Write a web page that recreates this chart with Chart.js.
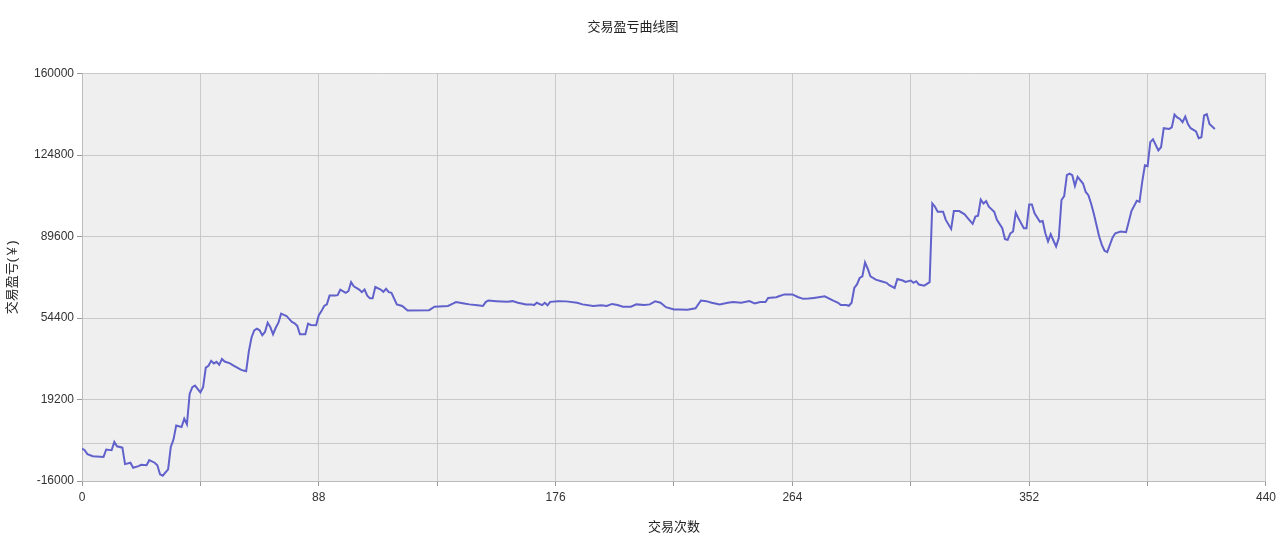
<!DOCTYPE html>
<html>
<head>
<meta charset="utf-8">
<title>交易盈亏曲线图</title>
<script src="https://cdn.jsdelivr.net/npm/chart.js@4.4.1/dist/chart.umd.min.js"></script>
<style>
  html, body { margin: 0; padding: 0; background: #fff; }
  #wrap { width: 1280px; height: 546px; }
</style>
</head>
<body>
<div id="wrap"><canvas id="pnlChart"></canvas></div>
<script>
// trade number and cumulative profit
const tradeNo = [
  0, 1, 2, 4, 8, 9, 11, 12, 13, 15, 16, 18, 19, 21, 22, 24, 25, 27, 28, 29, 30, 32, 33, 34, 35, 37, 38, 39, 40, 41, 42, 44, 45, 46, 47, 48,
  49, 50, 51, 52, 53, 55, 56, 59, 60, 61, 62, 63, 64, 65, 66, 67, 68, 69, 70, 71, 72, 73, 74, 76, 78, 79, 80, 81, 83, 84, 85, 87, 88, 89,
  90, 91, 92, 94, 95, 96, 98, 99, 100, 101, 103, 104, 105, 106, 107, 108, 109, 111, 112, 113, 114, 115, 117, 119, 121, 129, 131, 136, 138, 139,
  142, 144, 147, 149, 150, 151, 154, 158, 160, 162, 165, 167, 168, 169, 171, 172, 173, 174, 177, 180, 184, 186, 190, 193, 195, 197, 199, 201, 204, 206,
  209, 211, 213, 215, 217, 220, 222, 225, 228, 230, 232, 234, 237, 240, 242, 245, 248, 250, 252, 254, 255, 258, 259, 261, 264, 266, 268, 270, 272, 276,
  279, 281, 282, 284, 285, 286, 287, 288, 289, 290, 291, 292, 293, 295, 297, 299, 300, 302, 303, 305, 306, 308, 309, 310, 311, 313, 315, 316, 317, 318,
  320, 321, 323, 324, 326, 328, 329, 331, 332, 333, 334, 335, 336, 337, 339, 340, 342, 343, 344, 345, 346, 347, 348, 350, 351, 352, 353, 354, 356, 357,
  358, 359, 360, 361, 362, 363, 364, 365, 366, 367, 368, 369, 370, 372, 373, 374, 375, 376, 377, 378, 379, 380, 381, 383, 384, 386, 388, 389, 390, 392,
  393, 394, 395, 396, 397, 398, 400, 401, 402, 404, 405, 406, 407, 408, 409, 410, 411, 412, 414, 415, 416, 417, 418, 419, 421
];
const pnl = [
  -2000, -2700, -4400, -5300, -5600, -2400, -2700, 900, -1000, -1600, -8700, -8100, -10300, -9600, -9000, -9200, -7000, -8100, -9200, -13100, -13700, -11000, -1300, 1900, 8000, 7300, 10900, 8500, 21600, 24500, 25200, 22300, 24500, 33000, 33800, 35900,
  34800, 35500, 34200, 36700, 35600, 34800, 34100, 32100, 31700, 31400, 40000, 46000, 49100, 49800, 49100, 47000, 48400, 52400, 50500, 47400, 50200, 52400, 56300, 55300, 52700, 52100, 51000, 47400, 47400, 52000, 51400, 51300, 55600, 57400,
  59600, 60300, 64100, 64100, 64300, 66700, 65300, 66000, 69900, 68100, 66700, 65600, 66700, 64100, 62900, 62900, 67800, 66700, 65700, 67000, 65600, 65300, 60300, 59600, 57700, 57800, 59300, 59600, 60700, 61300,
  60700, 60300, 59900, 59600, 61300, 62000, 61700, 61400, 61700, 61000, 60300, 60300, 60000, 61000, 60000, 61000, 59900, 61400, 61700, 61600, 61000, 60300, 59600, 59900, 59600, 60500, 60000, 59300, 59300, 60300,
  60000, 60300, 61600, 61000, 59100, 58100, 58100, 58000, 58600, 62000, 61700, 61000, 60300, 61000, 61300, 61000, 61700, 60700, 61300, 61300, 63100, 63400, 63800, 64600, 64600, 63500, 62700, 62800, 63100, 63800,
  62000, 61000, 60000, 60000, 59700, 61000, 67400, 68900, 71700, 72400, 78400, 75700, 72400, 71000, 70300, 69600, 68600, 67400, 71300, 70600, 70000, 70600, 69600, 70300, 68900, 68400, 69900, 103900, 102500, 100300,
  100300, 96800, 92900, 100600, 100600, 99200, 97800, 95100, 98200, 98600, 105600, 103900, 104900, 102500, 100300, 96800, 93200, 88500, 88200, 91000, 91800, 99900, 97500, 93200, 93200, 103500, 103500, 99600, 96000, 96300,
  91000, 87500, 90600, 87900, 85300, 88900, 105400, 107100, 116100, 116800, 116100, 111500, 115400, 112500, 108900, 107500, 103900, 99600, 94600, 89600, 86000, 83500, 82900, 89200, 91000, 91800, 91500, 96000, 100600, 105100,
  104600, 113200, 120400, 120000, 130400, 131600, 126800, 128200, 136400, 136100, 136800, 142300, 141100, 140400, 139000, 141400, 138200, 136400, 135000, 132100, 132500, 141900, 142500, 138200, 136100
];
const yTicks = [-16000, 0, 19200, 54400, 89600, 124800, 160000];
const xMax = 440;

Chart.defaults.font.family = '"Liberation Sans", Arial, "Noto Sans CJK SC", sans-serif';
Chart.defaults.font.size = 12;
Chart.defaults.color = '#333';

const plotBg = {
  id: 'plotBg',
  beforeDraw(chart) {
    const { ctx, chartArea: a } = chart;
    ctx.save();
    ctx.fillStyle = '#efefef';
    ctx.fillRect(a.left, a.top, a.right - a.left, a.bottom - a.top);
    ctx.restore();
  }
};

function initChart() {
  const ctx = document.getElementById('pnlChart').getContext('2d');
  new Chart(ctx, {
    type: 'line',
    data: {
      datasets: [{
        label: '交易盈亏',
        data: tradeNo.map((t, i) => ({ x: t, y: pnl[i] })),
        borderColor: '#6161cc',
        borderWidth: 2,
        pointRadius: 0,
        tension: 0,
        fill: false
      }]
    },
    options: {
      responsive: true,
      maintainAspectRatio: false,
      animation: false,
      layout: { padding: { left: 0, right: 14, top: 0, bottom: 0 } },
      plugins: {
        legend: { display: false },
        tooltip: { enabled: false },
        title: {
          display: true,
          text: '交易盈亏曲线图',
          font: { size: 13, weight: 'normal' },
          color: '#222',
          padding: { top: 20, bottom: 38 }
        }
      },
      scales: {
        x: {
          type: 'linear',
          min: 0,
          max: xMax,
          afterFit: (axis) => { axis.height = 65; },
          ticks: {
            stepSize: 44,
            autoSkip: false,
            maxRotation: 0,
            padding: 4,
            callback: (v) => (v % 88 === 0 ? v : '')
          },
          grid: { color: '#c9c9c9', tickLength: 5, tickColor: '#999' },
          border: { color: '#bbb' },
          title: {
            display: true,
            text: '交易次数',
            font: { size: 13 },
            color: '#222',
            padding: { top: 0, bottom: 11 }
          }
        },
        y: {
          min: -16000,
          max: 160000,
          afterFit: (axis) => { axis.width = 82; },
          afterBuildTicks: (axis) => { axis.ticks = yTicks.map(v => ({ value: v })); },
          ticks: {
            padding: 3,
            callback: (v) => (v === 0 ? '' : v)
          },
          grid: {
            color: '#c9c9c9',
            tickLength: 5,
            tickColor: (c) => (c.tick && c.tick.value === 0 ? 'rgba(0,0,0,0)' : '#999')
          },
          border: { color: '#bbb' },
          title: {
            display: true,
            text: '交易盈亏(￥)',
            font: { size: 13 },
            color: '#222',
            padding: { top: 5, bottom: 0 }
          }
        }
      }
    },
    plugins: [plotBg]
  });
}

document.addEventListener('DOMContentLoaded', initChart);
</script>
</body>
</html>
